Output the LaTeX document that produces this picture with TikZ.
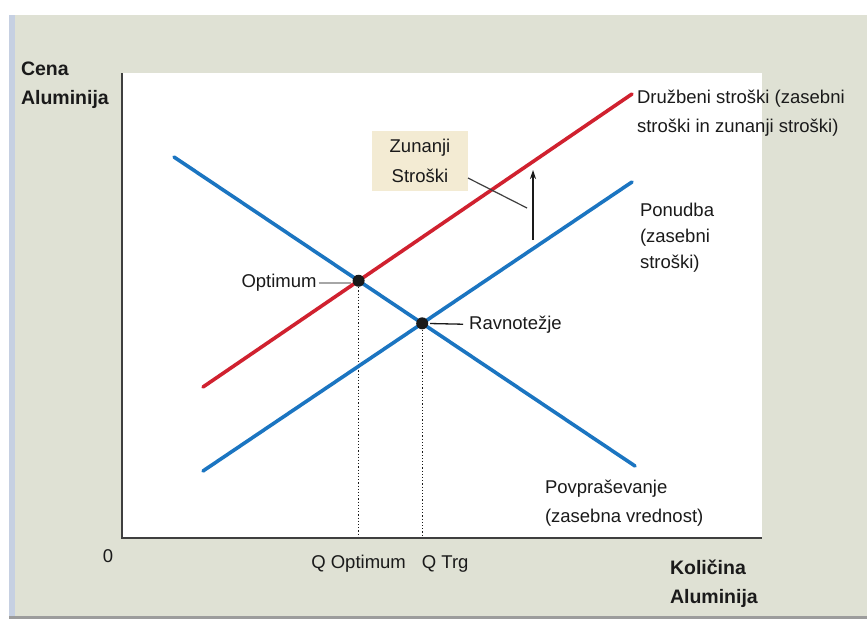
\documentclass[tikz,border=0pt]{standalone}
\usepackage{fontspec}
\setmainfont{Liberation Sans}
\usepackage{tikz}
\usetikzlibrary{positioning,calc,arrows.meta}
\usepackage{xcolor}
\definecolor{panel}{HTML}{DFE1D4}
\definecolor{edge}{HTML}{C6D0E2}
\definecolor{bar}{HTML}{9C9C9C}
\definecolor{blue}{HTML}{1B75C1}
\definecolor{red}{HTML}{D0212F}
\definecolor{axisgray}{HTML}{3F3F3F}
\definecolor{tan}{HTML}{F3EBD3}
\definecolor{ink}{HTML}{1A1A1A}

\begin{document}
\begin{tikzpicture}[x=1pt,y=-1pt,
  every node/.style={inner sep=0pt,outer sep=0pt,text=ink},
  lbl/.style={font=\fontsize{18.5}{29}\selectfont,align=left},
  axlbl/.style={font=\bfseries\fontsize{19.5}{29}\selectfont,align=left},
  curve/.style={line width=3.6pt,line cap=round}]
% FRAME: page, grey panel, blue edge, bottom bar, white plot area
\useasboundingbox (0,0) rectangle (867,619);
\fill[white] (0,0) rectangle (867,619);
\fill[panel] (9,15) rectangle (867,616);
\fill[edge] (9,15) rectangle (15,616);
\fill[bar] (9,616) rectangle (867,619);
\coordinate (top) at (122,73);
\coordinate (orig) at (122,538);
\coordinate (xend) at (762,538);
\fill[white] (top) rectangle (xend);
% CURVES: demand, supply (private cost), social cost
\coordinate (d1) at (174,157);
\coordinate (d2) at (635,466);
\coordinate (s1) at (203,471);
\coordinate (s2) at (632,182);
\coordinate (c1) at (203,387);
\coordinate (c2) at (632,94);
\coordinate (opt) at (intersection of c1--c2 and d1--d2);
\coordinate (eq) at (intersection of s1--s2 and d1--d2);
% dotted drops to the quantity axis
\draw[ink,line width=1.2pt,dash pattern=on 1.2pt off 2pt] (opt) -- (opt |- orig);
\draw[ink,line width=1.2pt,dash pattern=on 1.2pt off 2pt] (eq) -- (eq |- orig);
\draw[axisgray,line width=2pt] (top) -- (orig) -- (xend);
\draw[curve,blue] (d1) -- (d2);
\draw[curve,blue] (s1) -- (s2);
\draw[curve,red] (c1) -- (c2);
\fill[ink] (opt) circle (6);
\fill[ink] (eq) circle (6);
% LABELS: axes (base = last line)
\node[axlbl,anchor=base west] (yLbl) at (21,104) {Cena\\Aluminija};
\node[axlbl,anchor=base west] (xLbl) at (670,603) {Količina\\Aluminija};
\coordinate (qrow) at (0,568);
\node[lbl,anchor=base] (zero) at (108,562) {0};
\node[lbl,anchor=base] (qOpt) at (opt |- qrow) {Q Optimum};
\node[lbl,anchor=base] (qTrg) at ($(eq |- qrow)+(23,0)$) {Q Trg};
% LABELS: curves
\node[lbl,anchor=base west] (socLbl) at (637,132) {Družbeni stroški (zasebni\\stroški in zunanji stroški)};
\node[lbl,anchor=base west,font=\fontsize{18.5}{26}\selectfont] (supLbl) at (640,268) {Ponudba\\(zasebni\\stroški)};
\node[lbl,anchor=base west] (demLbl) at (545,522) {Povpraševanje\\(zasebna vrednost)};
% LABELS: points with leaders
\node[lbl,anchor=east] (optLbl) at ($(opt)+(-42,2)$) {Optimum};
\draw[gray!70,line width=2pt,shorten <=2pt,shorten >=8pt] (optLbl.east) -- (opt |- optLbl.east);
\node[lbl,anchor=west] (eqLbl) at ($(eq)+(47,1)$) {Ravnotežje};
\draw[ink,line width=1.3pt,shorten <=8pt,shorten >=6pt] (eq) -- (eqLbl.west);
% EXTERNAL COST: box, leader and upward shift
\node[lbl,fill=tan,align=center,minimum width=96pt,minimum height=60pt,
  font=\fontsize{18.5}{30}\selectfont] (extBox) at (420,161) {Zunanji\\Stroški};
\coordinate (leadEnd) at (527,208);
\draw[axisgray,line width=1.2pt] ($(extBox.south east)+(0,-13)$) -- (leadEnd);
\coordinate (shiftLo) at (533,240);
\coordinate (shiftHi) at (533,170);
\draw[ink,line width=1.3pt,-{Stealth[length=9pt,width=6pt]}] (shiftLo) -- (shiftHi);
\end{tikzpicture}
\end{document}
